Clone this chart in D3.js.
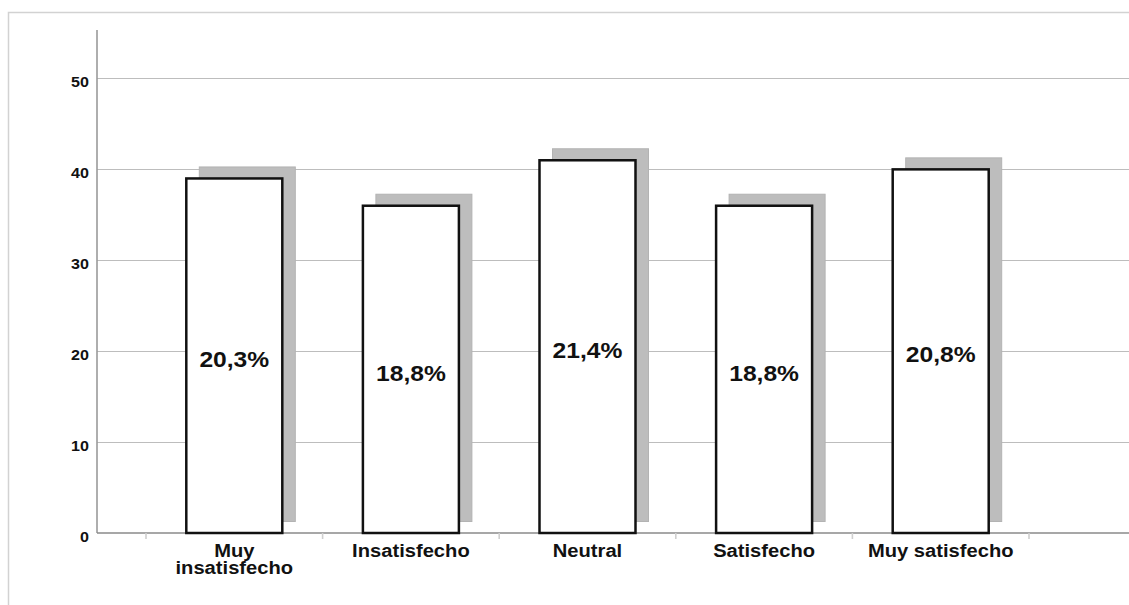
<!DOCTYPE html>
<html>
<head>
<meta charset="utf-8">
<script src="https://cdn.jsdelivr.net/npm/d3@7"></script>
<style>
  html, body { margin: 0; padding: 0; background: #fff; }
  svg { display: block; }
  text { font-family: "Liberation Sans", Arial, sans-serif; font-weight: bold; fill: #111; }
</style>
</head>
<body>
<svg id="chart" width="1129" height="605"></svg>
<script>
// ---- data ----
const categories = ["Muy insatisfecho", "Insatisfecho", "Neutral", "Satisfecho", "Muy satisfecho"];
const categoryLines = [["Muy", "insatisfecho"], ["Insatisfecho"], ["Neutral"], ["Satisfecho"], ["Muy satisfecho"]];
const counts = [39, 36, 41, 36, 40];
const percentLabels = ["20,3%", "18,8%", "21,4%", "18,8%", "20,8%"];
const yTicks = [0, 10, 20, 30, 40, 50];

// ---- layout ----
const W = 1129, H = 605;
const svg = d3.select("#chart");
const xScaleText = 1.11;

const y = d3.scaleLinear().domain([0, 55.33]).range([533, 30]);
const x = d3.scaleBand().domain(categories).range([146, 1029]).paddingInner(0.4564).paddingOuter(0.2282);
const axisLeft = 97;

// outer frame
svg.append("path")
  .attr("d", `M8.5,${H + 2} L8.5,12.5 L${W + 2},12.5`)
  .attr("fill", "none").attr("stroke", "#d2d2d2").attr("stroke-width", 1.5);

// gridlines
svg.append("g").selectAll("line").data(yTicks.filter(d => d > 0)).join("line")
  .attr("x1", axisLeft).attr("x2", W)
  .attr("y1", d => Math.round(y(d)) + 0.5).attr("y2", d => Math.round(y(d)) + 0.5)
  .attr("stroke", "#bdbdbd").attr("stroke-width", 1);

// y-axis line
svg.append("line").attr("x1", axisLeft).attr("x2", axisLeft)
  .attr("y1", y(55.33)).attr("y2", y(0))
  .attr("stroke", "#9a9a9a").attr("stroke-width", 1.6);

// x-axis line
svg.append("line").attr("x1", axisLeft).attr("x2", W)
  .attr("y1", y(0)).attr("y2", y(0))
  .attr("stroke", "#8a8a8a").attr("stroke-width", 1.6);

// x boundary ticks
const boundaries = d3.range(categories.length + 1).map(i => x.range()[0] + i * x.step());
svg.append("g").selectAll("line").data(boundaries).join("line")
  .attr("x1", d => d).attr("x2", d => d)
  .attr("y1", y(0)).attr("y2", y(0) + 6)
  .attr("stroke", "#cfcfcf").attr("stroke-width", 1.6);

// y tick labels
svg.append("g").selectAll("text").data(yTicks).join("text")
  .attr("transform", d => `translate(89,${y(d) + 8.5}) scale(${xScaleText},1)`)
  .attr("text-anchor", "end")
  .style("font-size", "14.5px")
  .text(d => d);

// shadows
const dx = 13, dy = -11.5;
svg.append("g").selectAll("rect").data(counts).join("rect")
  .attr("x", (d, i) => x(categories[i]) + dx)
  .attr("y", d => y(d) + dy)
  .attr("width", x.bandwidth())
  .attr("height", d => y(0) - y(d))
  .attr("fill", "#bdbdbd").attr("stroke", "#b3b3b3").attr("stroke-width", 1);

// bars
svg.append("g").selectAll("rect").data(counts).join("rect")
  .attr("x", (d, i) => x(categories[i]))
  .attr("y", d => y(d))
  .attr("width", x.bandwidth())
  .attr("height", d => y(0) - y(d))
  .attr("fill", "#fff").attr("stroke", "#111").attr("stroke-width", 2.5);

// percent labels
svg.append("g").selectAll("text").data(counts).join("text")
  .attr("transform", (d, i) => `translate(${x(categories[i]) + x.bandwidth() / 2},${(y(d) + y(0)) / 2 + 11.3}) scale(${xScaleText + 0.01},1)`)
  .attr("text-anchor", "middle")
  .style("font-size", "22px")
  .text((d, i) => percentLabels[i]);

// category labels
const catG = svg.append("g").selectAll("g").data(categories).join("g")
  .attr("transform", d => `translate(${x(d) + x.bandwidth() / 2},556.5) scale(1.09,1)`);
catG.each(function(d, i) {
  const g = d3.select(this);
  categoryLines[i].forEach((ln, j) => {
    g.append("text").attr("y", j * 17.7).attr("text-anchor", "middle")
      .style("font-size", "18.5px").text(ln);
  });
});
</script>
</body>
</html>
